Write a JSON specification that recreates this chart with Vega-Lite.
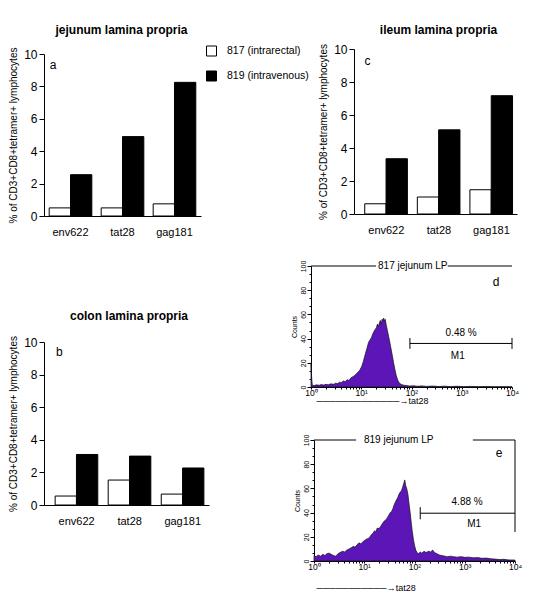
{
  "$schema": "https://vega.github.io/schema/vega-lite/v6.json",
  "background": "white",
  "padding": {"left": 8, "top": 24, "right": 5, "bottom": 5},
  "config": {
    "font": "Liberation Sans",
    "view": {"stroke": null},
    "axis": {"domainColor": "black", "tickColor": "black", "labelColor": "black", "titleColor": "black", "titleFontWeight": "normal", "grid": false, "domainWidth": 1, "tickWidth": 1},
    "title": {"color": "black"},
    "legend": {"labelColor": "black"},
    "text": {"color": "black"}
  },
  "datasets": {
    "bars": [
      {"panel": "a", "antigen": "env622", "animal": "817 (intrarectal)", "pct": 0.5},
      {"panel": "a", "antigen": "env622", "animal": "819 (intravenous)", "pct": 2.55},
      {"panel": "a", "antigen": "tat28", "animal": "817 (intrarectal)", "pct": 0.5},
      {"panel": "a", "antigen": "tat28", "animal": "819 (intravenous)", "pct": 4.9},
      {"panel": "a", "antigen": "gag181", "animal": "817 (intrarectal)", "pct": 0.75},
      {"panel": "a", "antigen": "gag181", "animal": "819 (intravenous)", "pct": 8.25},
      {"panel": "c", "antigen": "env622", "animal": "817 (intrarectal)", "pct": 0.62},
      {"panel": "c", "antigen": "env622", "animal": "819 (intravenous)", "pct": 3.35},
      {"panel": "c", "antigen": "tat28", "animal": "817 (intrarectal)", "pct": 1.03},
      {"panel": "c", "antigen": "tat28", "animal": "819 (intravenous)", "pct": 5.1},
      {"panel": "c", "antigen": "gag181", "animal": "817 (intrarectal)", "pct": 1.47},
      {"panel": "c", "antigen": "gag181", "animal": "819 (intravenous)", "pct": 7.17},
      {"panel": "b", "antigen": "env622", "animal": "817 (intrarectal)", "pct": 0.55},
      {"panel": "b", "antigen": "env622", "animal": "819 (intravenous)", "pct": 3.1},
      {"panel": "b", "antigen": "tat28", "animal": "817 (intrarectal)", "pct": 1.53},
      {"panel": "b", "antigen": "tat28", "animal": "819 (intravenous)", "pct": 3.0},
      {"panel": "b", "antigen": "gag181", "animal": "817 (intrarectal)", "pct": 0.67},
      {"panel": "b", "antigen": "gag181", "animal": "819 (intravenous)", "pct": 2.27}
    ],
    "histd": [
      {"fl": 1, "n": 20}, {"fl": 1.03, "n": 8}, {"fl": 1.06, "n": 1.5}, {"fl": 1.15, "n": 1.2}, {"fl": 1.3, "n": 1.8}, {"fl": 1.45, "n": 1.4}, {"fl": 1.6, "n": 2}, {"fl": 1.8, "n": 1.6}, {"fl": 2, "n": 2.2}, {"fl": 2.2, "n": 1.8}, {"fl": 2.5, "n": 2.6}, {"fl": 2.8, "n": 2.2}, {"fl": 3.1, "n": 3.2}, {"fl": 3.4, "n": 2.8}, {"fl": 3.7, "n": 4}, {"fl": 4, "n": 3.6}, {"fl": 4.4, "n": 5}, {"fl": 4.8, "n": 4.4}, {"fl": 5.2, "n": 6}, {"fl": 5.7, "n": 5.4}, {"fl": 6.2, "n": 7.5}, {"fl": 6.8, "n": 8.5}, {"fl": 7.4, "n": 9.5}, {"fl": 8, "n": 11}, {"fl": 8.7, "n": 12.5}, {"fl": 9.4, "n": 14}, {"fl": 10.2, "n": 17}, {"fl": 11, "n": 21}, {"fl": 12, "n": 27}, {"fl": 13, "n": 32}, {"fl": 14, "n": 37}, {"fl": 15, "n": 39}, {"fl": 16, "n": 41}, {"fl": 17, "n": 44}, {"fl": 18.5, "n": 47}, {"fl": 20, "n": 49}, {"fl": 21, "n": 52}, {"fl": 22, "n": 50}, {"fl": 23, "n": 53}, {"fl": 24, "n": 55}, {"fl": 25, "n": 52}, {"fl": 26, "n": 56}, {"fl": 27, "n": 55}, {"fl": 28, "n": 57}, {"fl": 29, "n": 54}, {"fl": 30, "n": 56}, {"fl": 31.5, "n": 51}, {"fl": 33, "n": 47}, {"fl": 35, "n": 42}, {"fl": 37, "n": 37}, {"fl": 39, "n": 32}, {"fl": 41.5, "n": 26}, {"fl": 44, "n": 20}, {"fl": 47, "n": 14}, {"fl": 50, "n": 9}, {"fl": 54, "n": 5}, {"fl": 58, "n": 3}, {"fl": 63, "n": 2}, {"fl": 70, "n": 1.5}, {"fl": 80, "n": 1.2}, {"fl": 90, "n": 0.8}, {"fl": 110, "n": 1}, {"fl": 130, "n": 0.6}, {"fl": 160, "n": 0.9}, {"fl": 200, "n": 0.5}, {"fl": 260, "n": 0.8}, {"fl": 350, "n": 0.4}, {"fl": 450, "n": 0.7}, {"fl": 600, "n": 0.3}, {"fl": 800, "n": 0.6}, {"fl": 1100, "n": 0.3}, {"fl": 1500, "n": 0.5}, {"fl": 2200, "n": 0.3}, {"fl": 3000, "n": 0.4}, {"fl": 4500, "n": 0.2}, {"fl": 6500, "n": 0.3}, {"fl": 10000, "n": 0.2}
    ],
    "histe": [
      {"fl": 1, "n": 4.5}, {"fl": 1.1, "n": 3.5}, {"fl": 1.2, "n": 5}, {"fl": 1.35, "n": 4}, {"fl": 1.5, "n": 5.5}, {"fl": 1.65, "n": 4.5}, {"fl": 1.8, "n": 6}, {"fl": 2, "n": 6.5}, {"fl": 2.2, "n": 5.5}, {"fl": 2.45, "n": 4.5}, {"fl": 2.7, "n": 4}, {"fl": 3, "n": 6}, {"fl": 3.3, "n": 7}, {"fl": 3.7, "n": 8}, {"fl": 4.1, "n": 7.5}, {"fl": 4.5, "n": 9}, {"fl": 5, "n": 10}, {"fl": 5.5, "n": 11}, {"fl": 6, "n": 12}, {"fl": 6.6, "n": 11.5}, {"fl": 7.2, "n": 13.5}, {"fl": 7.9, "n": 15}, {"fl": 8.6, "n": 14}, {"fl": 9.4, "n": 16}, {"fl": 10.2, "n": 17}, {"fl": 11, "n": 18}, {"fl": 12, "n": 18.5}, {"fl": 13, "n": 20}, {"fl": 14, "n": 22}, {"fl": 15, "n": 23}, {"fl": 16, "n": 25}, {"fl": 17, "n": 24}, {"fl": 18, "n": 27}, {"fl": 20, "n": 27}, {"fl": 21.5, "n": 29}, {"fl": 23, "n": 31}, {"fl": 25, "n": 33}, {"fl": 27, "n": 34}, {"fl": 29, "n": 36}, {"fl": 31, "n": 38}, {"fl": 33, "n": 40}, {"fl": 35, "n": 41}, {"fl": 37, "n": 43}, {"fl": 39, "n": 46}, {"fl": 41, "n": 48}, {"fl": 43, "n": 50}, {"fl": 46, "n": 52}, {"fl": 49, "n": 55}, {"fl": 52, "n": 57}, {"fl": 55, "n": 58}, {"fl": 58, "n": 61}, {"fl": 61, "n": 64}, {"fl": 64, "n": 67}, {"fl": 67, "n": 62}, {"fl": 70, "n": 60}, {"fl": 74, "n": 55}, {"fl": 78, "n": 47}, {"fl": 82, "n": 40}, {"fl": 86, "n": 32}, {"fl": 90, "n": 25}, {"fl": 95, "n": 18}, {"fl": 100, "n": 13}, {"fl": 106, "n": 9}, {"fl": 112, "n": 7}, {"fl": 120, "n": 6}, {"fl": 130, "n": 7.5}, {"fl": 140, "n": 6.5}, {"fl": 155, "n": 8}, {"fl": 170, "n": 7}, {"fl": 190, "n": 8}, {"fl": 210, "n": 7.5}, {"fl": 230, "n": 9}, {"fl": 250, "n": 7}, {"fl": 280, "n": 6}, {"fl": 310, "n": 5}, {"fl": 350, "n": 4.5}, {"fl": 400, "n": 4}, {"fl": 450, "n": 3.5}, {"fl": 520, "n": 4}, {"fl": 600, "n": 3.5}, {"fl": 700, "n": 3.2}, {"fl": 850, "n": 3.6}, {"fl": 1000, "n": 3}, {"fl": 1200, "n": 3.2}, {"fl": 1500, "n": 2.6}, {"fl": 1800, "n": 2.8}, {"fl": 2200, "n": 2.2}, {"fl": 2700, "n": 2.4}, {"fl": 3300, "n": 1.8}, {"fl": 4000, "n": 1.6}, {"fl": 5000, "n": 1.2}, {"fl": 6000, "n": 1.4}, {"fl": 7500, "n": 0.9}, {"fl": 10000, "n": 0.8}
    ]
  },
  "resolve": {"scale": {"fill": "independent"}, "legend": {"fill": "independent"}},
  "spacing": -3,
  "hconcat": [
    {
      "bounds": "flush",
      "spacing": 126,
      "resolve": {"scale": {"fill": "independent"}, "legend": {"fill": "independent"}},
      "vconcat": [
        {
          "width": 157, "height": 167,
          "title": {"text": "jejunum lamina propria", "fontSize": 12, "fontWeight": "bold", "frame": "group", "anchor": "middle", "offset": 10, "dx": -1},
          "resolve": {"axis": {"x": "independent", "y": "independent"}},
          "layer": [
            {
              "data": {"name": "bars"},
              "transform": [{"filter": "datum.panel == 'a'"}],
              "mark": {"type": "bar", "stroke": "black", "strokeWidth": 1},
              "encoding": {
                "x": {"field": "antigen", "type": "nominal", "sort": ["env622", "tat28", "gag181"], "scale": {"domain": ["env622", "tat28", "gag181"], "paddingInner": 0.18, "paddingOuter": 0.1}, "axis": {"title": null, "labelAngle": 0, "ticks": false, "labelFontSize": 11, "labelPadding": 10}},
                "xOffset": {"field": "animal", "type": "nominal", "sort": ["817 (intrarectal)", "819 (intravenous)"]},
                "y": {"field": "pct", "type": "quantitative", "scale": {"domain": [0, 10], "range": [167, 5], "nice": false}, "axis": {"title": "% of CD3+CD8+tetramer+ lymphocytes", "titleFontSize": 10, "values": [0, 2, 4, 6, 8, 10], "labelFontSize": 12, "tickSize": 5, "labelPadding": 2, "titlePadding": 5, "labelFlush": false, "labelOverlap": false}},
                "fill": {"field": "animal", "type": "nominal", "scale": {"domain": ["817 (intrarectal)", "819 (intravenous)"], "range": ["white", "black"]}, "legend": null}
              }
            },
            {
              "data": {"values": [{"letter": "a"}]},
              "mark": {"type": "text", "fontSize": 12, "dx": -17.5, "baseline": "middle"},
              "encoding": {"x": {"datum": "env622", "axis": null}, "y": {"datum": 9.32, "axis": null}, "text": {"field": "letter"}}
            }
          ]
        },
        {
          "width": 165, "height": 163,
          "title": {"text": "colon lamina propria", "fontSize": 12, "fontWeight": "bold", "frame": "group", "anchor": "middle", "offset": 13, "dx": 2.5},
          "resolve": {"axis": {"x": "independent", "y": "independent"}},
          "layer": [
            {
              "data": {"name": "bars"},
              "transform": [{"filter": "datum.panel == 'b'"}],
              "mark": {"type": "bar", "stroke": "black", "strokeWidth": 1},
              "encoding": {
                "x": {"field": "antigen", "type": "nominal", "sort": ["env622", "tat28", "gag181"], "scale": {"domain": ["env622", "tat28", "gag181"], "paddingInner": 0.19, "paddingOuter": 0.15, "align": 0.7}, "axis": {"title": null, "labelAngle": 0, "ticks": false, "labelFontSize": 11, "labelPadding": 10}},
                "xOffset": {"field": "animal", "type": "nominal", "sort": ["817 (intrarectal)", "819 (intravenous)"]},
                "y": {"field": "pct", "type": "quantitative", "scale": {"domain": [0, 10], "nice": false}, "axis": {"title": "% of CD3+CD8+tetramer+ lymphocytes", "titleFontSize": 10, "values": [0, 2, 4, 6, 8, 10], "labelFontSize": 12, "tickSize": 5, "labelPadding": 2, "titlePadding": 5, "labelFlush": false, "labelOverlap": false}},
                "fill": {"field": "animal", "type": "nominal", "scale": {"domain": ["817 (intrarectal)", "819 (intravenous)"], "range": ["white", "black"]}, "legend": null}
              }
            },
            {
              "data": {"values": [{"letter": "b"}]},
              "mark": {"type": "text", "fontSize": 12, "dx": -17.2, "baseline": "middle"},
              "encoding": {"x": {"datum": "env622", "axis": null}, "y": {"datum": 9.37, "axis": null}, "text": {"field": "letter"}}
            }
          ]
        }
      ]
    },
    {
      "bounds": "flush",
      "spacing": 52,
      "resolve": {"scale": {"fill": "independent"}, "legend": {"fill": "independent"}},
      "vconcat": [
        {
          "width": 206, "height": 165,
          "title": {"text": "ileum lamina propria", "fontSize": 12, "fontWeight": "bold", "frame": "group", "anchor": "middle", "offset": 6, "dx": 24.5},
          "resolve": {"axis": {"x": "independent", "y": "independent"}},
          "layer": [
            {
              "data": {"name": "bars"},
              "transform": [{"filter": "datum.panel == 'c'"}],
              "mark": {"type": "bar", "stroke": "black", "strokeWidth": 1},
              "encoding": {
                "x": {"field": "antigen", "type": "nominal", "sort": ["env622", "tat28", "gag181"], "scale": {"domain": ["env622", "tat28", "gag181"], "range": [43, 206], "paddingInner": 0.18, "paddingOuter": 0.14, "align": 0.73}, "axis": {"title": null, "labelAngle": 0, "ticks": false, "labelFontSize": 11, "labelPadding": 10}},
                "xOffset": {"field": "animal", "type": "nominal", "sort": ["817 (intrarectal)", "819 (intravenous)"]},
                "y": {"field": "pct", "type": "quantitative", "scale": {"domain": [0, 10], "nice": false}, "axis": {"title": "% of CD3+CD8+tetramer+ lymphocytes", "titleFontSize": 10, "values": [0, 2, 4, 6, 8, 10], "labelFontSize": 12, "tickSize": 5, "labelPadding": 2, "titlePadding": 5, "labelFlush": false, "labelOverlap": false, "offset": -43}},
                "fill": {"field": "animal", "type": "nominal", "scale": {"domain": ["817 (intrarectal)", "819 (intravenous)"], "range": ["white", "black"]}, "legend": {"title": null, "orient": "none", "legendX": -105, "legendY": -3.5, "padding": 0, "symbolType": "square", "symbolSize": 100, "symbolStrokeColor": "black", "symbolStrokeWidth": 1, "symbolOpacity": 1, "labelFontSize": 10.5, "labelOffset": 10, "rowPadding": 10}}
              }
            },
            {
              "data": {"values": [{"letter": "c"}]},
              "mark": {"type": "text", "fontSize": 12, "dx": -18.8, "baseline": "middle"},
              "encoding": {"x": {"datum": "env622", "axis": null}, "y": {"datum": 9.27, "axis": null}, "text": {"field": "letter"}}
            }
          ]
        },
        {
          "width": 201, "height": 121,
          "resolve": {"axis": {"x": "independent", "y": "independent"}},
          "layer": [
            {
              "data": {"name": "histd"},
              "mark": {"type": "area", "fill": "#5c16b8", "stroke": "#111111", "strokeWidth": 0.7},
              "encoding": {
                "x": {"field": "fl", "type": "quantitative", "scale": {"type": "log", "domain": [1, 10000], "nice": false}, "axis": {"title": "─────────────→tat28", "titleFontSize": 9, "titleAnchor": "start", "titleAlign": "left", "titleBaseline": "middle", "titleX": 5, "titleY": 13.5, "values": [1, 10, 100, 1000, 10000], "labelExpr": "datum.value == 1 ? '10⁰' : datum.value == 10 ? '10¹' : datum.value == 100 ? '10²' : datum.value == 1000 ? '10³' : '10⁴'", "labelFontSize": 8.5, "labelPadding": -1, "tickSize": 2, "labelFlush": false, "labelOverlap": false}},
                "y": {"field": "n", "type": "quantitative", "stack": null, "scale": {"domain": [0, 100], "nice": false}, "axis": {"title": "Counts", "titleFontSize": 7, "titlePadding": 2, "values": [0, 20, 40, 60, 80, 100], "labelAngle": -90, "labelFontSize": 7, "labelPadding": 1, "tickSize": 4, "labelFlush": false, "labelOverlap": false}}
              }
            },
            {
              "data": {"values": [{}]},
              "mark": {"type": "rule", "color": "black", "strokeWidth": 1},
              "encoding": {
                "x": {"datum": 1, "axis": {"orient": "bottom", "values": [2, 3, 4, 5, 6, 7, 8, 9, 20, 30, 40, 50, 60, 70, 80, 90, 200, 300, 400, 500, 600, 700, 800, 900, 2000, 3000, 4000, 5000, 6000, 7000, 8000, 9000], "labels": false, "domain": false, "tickSize": 2, "title": null}},
                "x2": {"datum": 19.7},
                "y": {"datum": 100, "axis": {"orient": "left", "values": [6.67, 13.33, 26.67, 33.33, 46.67, 53.33, 66.67, 73.33, 86.67, 93.33], "labels": false, "domain": false, "tickSize": 2, "title": null}}
              }
            },
            {
              "data": {"values": [{}]},
              "mark": {"type": "rule", "color": "black", "strokeWidth": 1},
              "encoding": {"x": {"datum": 525, "axis": null}, "x2": {"datum": 10000}, "y": {"datum": 100, "axis": null}}
            },
            {
              "data": {"values": [{}]},
              "mark": {"type": "rule", "color": "black", "strokeWidth": 1},
              "encoding": {"x": {"datum": 93, "axis": null}, "x2": {"datum": 10000}, "y": {"datum": 36, "axis": null}}
            },
            {
              "data": {"values": [{}]},
              "mark": {"type": "rule", "color": "black", "strokeWidth": 1},
              "encoding": {"x": {"datum": 93, "axis": null}, "y": {"datum": 31.5, "axis": null}, "y2": {"datum": 40.5}}
            },
            {
              "data": {"values": [{}]},
              "mark": {"type": "rule", "color": "black", "strokeWidth": 1},
              "encoding": {"x": {"datum": 10000, "axis": null}, "y": {"datum": 31.5, "axis": null}, "y2": {"datum": 40.5}}
            },
            {
              "data": {"values": [{"t": "817 jejunum LP"}]},
              "mark": {"type": "text", "fontSize": 10, "baseline": "middle"},
              "encoding": {"x": {"datum": 106, "axis": null}, "y": {"datum": 100, "axis": null}, "text": {"field": "t"}}
            },
            {
              "data": {"values": [{"t": "0.48 %"}]},
              "mark": {"type": "text", "fontSize": 10, "baseline": "middle"},
              "encoding": {"x": {"datum": 973, "axis": null}, "y": {"datum": 45, "axis": null}, "text": {"field": "t"}}
            },
            {
              "data": {"values": [{"t": "M1"}]},
              "mark": {"type": "text", "fontSize": 10, "baseline": "middle"},
              "encoding": {"x": {"datum": 835, "axis": null}, "y": {"datum": 26, "axis": null}, "text": {"field": "t"}}
            },
            {
              "data": {"values": [{"t": "d"}]},
              "mark": {"type": "text", "fontSize": 12, "baseline": "middle"},
              "encoding": {"x": {"datum": 4840, "axis": null}, "y": {"datum": 87, "axis": null}, "text": {"field": "t"}}
            }
          ]
        },
        {
          "width": 204, "height": 122,
          "resolve": {"axis": {"x": "independent", "y": "independent"}},
          "layer": [
            {
              "data": {"name": "histe"},
              "mark": {"type": "area", "fill": "#5c16b8", "stroke": "#111111", "strokeWidth": 0.7},
              "encoding": {
                "x": {"field": "fl", "type": "quantitative", "scale": {"type": "log", "domain": [1, 10000], "range": [3, 204], "nice": false}, "axis": {"title": "───────────→tat28", "titleFontSize": 9, "titleAnchor": "start", "titleAlign": "left", "titleBaseline": "middle", "titleX": 5, "titleY": 26, "values": [1, 10, 100, 1000, 10000], "labelExpr": "datum.value == 1 ? '10⁰' : datum.value == 10 ? '10¹' : datum.value == 100 ? '10²' : datum.value == 1000 ? '10³' : '10⁴'", "labelFontSize": 8.5, "labelPadding": -1, "tickSize": 2, "labelFlush": false, "labelOverlap": false}},
                "y": {"field": "n", "type": "quantitative", "stack": null, "scale": {"domain": [0, 100], "range": [122, 1], "nice": false}, "axis": {"title": "Counts", "titleFontSize": 7, "titlePadding": 2, "values": [0, 20, 40, 60, 80, 100], "labelAngle": -90, "labelFontSize": 7, "labelPadding": 1, "tickSize": 4, "labelFlush": false, "labelOverlap": false, "offset": -3}}
              }
            },
            {
              "data": {"values": [{}]},
              "mark": {"type": "rule", "color": "black", "strokeWidth": 1},
              "encoding": {
                "x": {"datum": 1, "axis": {"orient": "bottom", "values": [2, 3, 4, 5, 6, 7, 8, 9, 20, 30, 40, 50, 60, 70, 80, 90, 200, 300, 400, 500, 600, 700, 800, 900, 2000, 3000, 4000, 5000, 6000, 7000, 8000, 9000], "labels": false, "domain": false, "tickSize": 2, "title": null}},
                "x2": {"datum": 6.9},
                "y": {"datum": 100, "axis": {"orient": "left", "offset": -3, "values": [6.67, 13.33, 26.67, 33.33, 46.67, 53.33, 66.67, 73.33, 86.67, 93.33], "labels": false, "domain": false, "tickSize": 2, "title": null}}
              }
            },
            {
              "data": {"values": [{}]},
              "mark": {"type": "rule", "color": "black", "strokeWidth": 1},
              "encoding": {"x": {"datum": 1450, "axis": null}, "x2": {"datum": 10000}, "y": {"datum": 100, "axis": null}}
            },
            {
              "data": {"values": [{}]},
              "mark": {"type": "rule", "color": "black", "strokeWidth": 1},
              "encoding": {"x": {"datum": 10000, "axis": null}, "y": {"datum": 24, "axis": null}, "y2": {"datum": 100}}
            },
            {
              "data": {"values": [{}]},
              "mark": {"type": "rule", "color": "black", "strokeWidth": 1},
              "encoding": {"x": {"datum": 130, "axis": null}, "x2": {"datum": 10000}, "y": {"datum": 39.5, "axis": null}}
            },
            {
              "data": {"values": [{}]},
              "mark": {"type": "rule", "color": "black", "strokeWidth": 1},
              "encoding": {"x": {"datum": 130, "axis": null}, "y": {"datum": 34.5, "axis": null}, "y2": {"datum": 44.5}}
            },
            {
              "data": {"values": [{"t": "819 jejunum LP"}]},
              "mark": {"type": "text", "fontSize": 10, "baseline": "middle"},
              "encoding": {"x": {"datum": 48.5, "axis": null}, "y": {"datum": 100, "axis": null}, "text": {"field": "t"}}
            },
            {
              "data": {"values": [{"t": "4.88 %"}]},
              "mark": {"type": "text", "fontSize": 10, "baseline": "middle"},
              "encoding": {"x": {"datum": 1115, "axis": null}, "y": {"datum": 49, "axis": null}, "text": {"field": "t"}}
            },
            {
              "data": {"values": [{"t": "M1"}]},
              "mark": {"type": "text", "fontSize": 10, "baseline": "middle"},
              "encoding": {"x": {"datum": 1540, "axis": null}, "y": {"datum": 30.4, "axis": null}, "text": {"field": "t"}}
            },
            {
              "data": {"values": [{"t": "e"}]},
              "mark": {"type": "text", "fontSize": 12, "baseline": "middle"},
              "encoding": {"x": {"datum": 4800, "axis": null}, "y": {"datum": 89.5, "axis": null}, "text": {"field": "t"}}
            }
          ]
        }
      ]
    }
  ]
}
